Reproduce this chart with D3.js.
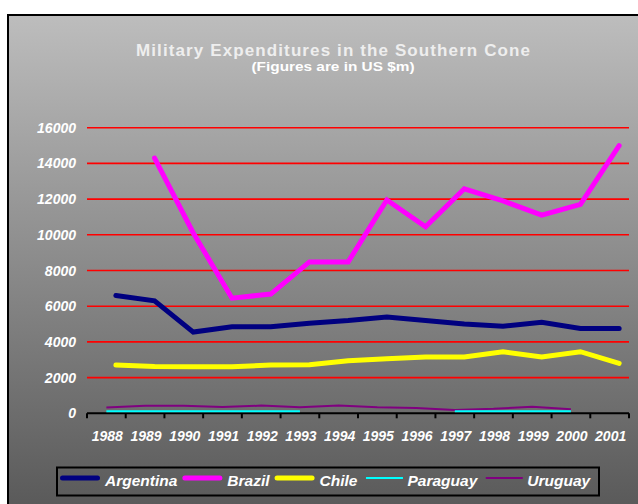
<!DOCTYPE html>
<html>
<head>
<meta charset="utf-8">
<script src="https://d3js.org/d3.v7.min.js"></script>
<style>
  body { margin: 0; background: #ffffff; }
  svg { display: block; font-family: "Liberation Sans", Arial, sans-serif; }
</style>
</head>
<body>
<div id="container"></div>
<script>
/* the data */
var years = ["1988","1989","1990","1991","1992","1993","1994","1995","1996","1997","1998","1999","2000","2001"]
var argentina = [6600, 6300, 4550, 4850, 4850, 5050, 5200, 5400, 5200, 5000, 4880, 5100, 4750, 4750]
var brazil    = [null, 14300, 10100, 6450, 6680, 8480, 8480, 11950, 10450, 12580, 11900, 11100, 11700, 15000]
var chile     = [2700, 2620, 2610, 2610, 2700, 2720, 2950, 3060, 3150, 3150, 3450, 3150, 3450, 2800]
var paraguay  = [110, 110, 110, 110, 110, 110, null, null, null, 120, 120, 120, 120, null]
var uruguay   = [320, 420, 420, 350, 430, 340, 430, 340, 300, 190, 250, 360, 230, null]
var yTicks = [0, 2000, 4000, 6000, 8000, 10000, 12000, 14000, 16000]

var series = [
  { name: "Argentina", values: argentina, color: "#000080", width: 5, thick: true },
  { name: "Brazil",    values: brazil,    color: "#ff00ff", width: 5, thick: true },
  { name: "Chile",     values: chile,     color: "#ffff00", width: 5, thick: true },
  { name: "Paraguay",  values: paraguay,  color: "#00ffff", width: 2, thick: false },
  { name: "Uruguay",   values: uruguay,   color: "#800080", width: 2, thick: false }
]

/* setup the dimensions */
var width = 638, height = 504
var plot = { left: 87, right: 629, top: 127.7, bottom: 413.3 }

var svg = d3.select("#container")
            .append("svg")
            .attr("width", width)
            .attr("height", height)

/* grey gradient background */
var grad = svg.append("defs").append("linearGradient")
              .attr("id", "bg")
              .attr("x1", 0).attr("y1", 0)
              .attr("x2", 0).attr("y2", 1)
grad.append("stop").attr("offset", "0%").attr("stop-color", "#bdbdbd")
grad.append("stop").attr("offset", "100%").attr("stop-color", "#585858")

svg.append("rect")
   .attr("x", 8).attr("y", 15)
   .attr("width", 640).attr("height", 500)
   .attr("fill", "url(#bg)")
   .attr("stroke", "#000")
   .attr("stroke-width", 2)

/* titles */
svg.append("text")
   .attr("x", 333).attr("y", 56)
   .attr("text-anchor", "middle")
   .attr("fill", "#eeeeee")
   .attr("font-size", 17)
   .attr("font-weight", "bold")
   .attr("textLength", 394)
   .attr("lengthAdjust", "spacing")
   .text("Military Expenditures in the Southern Cone")

svg.append("text")
   .attr("x", 333).attr("y", 71)
   .attr("text-anchor", "middle")
   .attr("fill", "#ffffff")
   .attr("font-size", 13)
   .attr("font-weight", "bold")
   .attr("textLength", 163)
   .attr("lengthAdjust", "spacingAndGlyphs")
   .text("(Figures are in US $m)")

/* scales */
var x = d3.scaleBand()
          .domain(years)
          .range([plot.left, plot.right])
var y = d3.scaleLinear()
          .domain([0, 16000])
          .range([plot.bottom, plot.top])

/* red gridlines */
svg.selectAll(".grid")
   .data(yTicks.filter(function(d) { return d > 0 }))
   .enter().append("line")
     .attr("class", "grid")
     .attr("x1", plot.left).attr("x2", plot.right)
     .attr("y1", function(d) { return y(d) })
     .attr("y2", function(d) { return y(d) })
     .attr("stroke", "#ff0000")
     .attr("stroke-width", 1.6)

/* y labels */
svg.selectAll(".ylab")
   .data(yTicks)
   .enter().append("text")
     .attr("class", "ylab")
     .attr("x", 76)
     .attr("y", function(d) { return y(d) + 5 })
     .attr("text-anchor", "end")
     .attr("fill", "#ffffff")
     .attr("font-size", 14)
     .attr("font-weight", "bold")
     .attr("font-style", "italic")
     .text(function(d) { return d })

/* x axis */
var xAxis = svg.append("g")
   .attr("transform", "translate(0," + plot.bottom + ")")
xAxis.append("line")
   .attr("x1", plot.left).attr("x2", plot.right)
   .attr("stroke", "#000").attr("stroke-width", 2)
xAxis.selectAll(".tick")
   .data(years.concat(["end"]))
   .enter().append("line")
     .attr("class", "tick")
     .attr("x1", function(d, i) { return plot.left + i * x.step() })
     .attr("x2", function(d, i) { return plot.left + i * x.step() })
     .attr("y1", 0).attr("y2", 5)
     .attr("stroke", "#000").attr("stroke-width", 2)
xAxis.selectAll(".xlab")
   .data(years)
   .enter().append("text")
     .attr("class", "xlab")
     .attr("x", function(d) { return x(d) + x.bandwidth() / 2 + 1 })
     .attr("y", 28)
     .attr("text-anchor", "middle")
     .attr("fill", "#ffffff")
     .attr("font-size", 14)
     .attr("font-weight", "bold")
     .attr("font-style", "italic")
     .text(function(d) { return d })

/* the lines */
series.slice().reverse().forEach(function(s) {
  var shift = s.thick ? 9.5 : 0
  var line = d3.line()
               .defined(function(d) { return d != null })
               .x(function(d, i) { return x(years[i]) + x.bandwidth() / 2 + shift })
               .y(function(d) { return y(d) })
  svg.append("path")
     .datum(s.values)
     .attr("d", line)
     .attr("fill", "none")
     .attr("stroke", s.color)
     .attr("stroke-width", s.width)
     .attr("stroke-linecap", s.thick ? "round" : "butt")
})

/* legend */
svg.append("rect")
   .attr("x", 57).attr("y", 467.5)
   .attr("width", 542).attr("height", 28)
   .attr("fill", "none")
   .attr("stroke", "#000")
   .attr("stroke-width", 2)

var lx = 60
series.forEach(function(s, i) {
  if (i > 0) lx += s.thick ? 5 : 8.5
  svg.append("line")
     .attr("x1", s.thick ? lx + 2.5 : lx)
     .attr("x2", s.thick ? lx + 37.5 : lx + 37)
     .attr("y1", 478).attr("y2", 478)
     .attr("stroke", s.color)
     .attr("stroke-width", s.thick ? 5 : 2)
     .attr("stroke-linecap", s.thick ? "round" : "butt")
  var tx = lx + (s.thick ? 45 : 41.5)
  var t = svg.append("text")
     .attr("x", tx).attr("y", 486)
     .attr("fill", "#ffffff")
     .attr("font-size", 15.5)
     .attr("font-weight", "bold")
     .attr("font-style", "italic")
     .text(s.name)
  lx = tx + t.node().getComputedTextLength()
})
</script>
</body>
</html>
